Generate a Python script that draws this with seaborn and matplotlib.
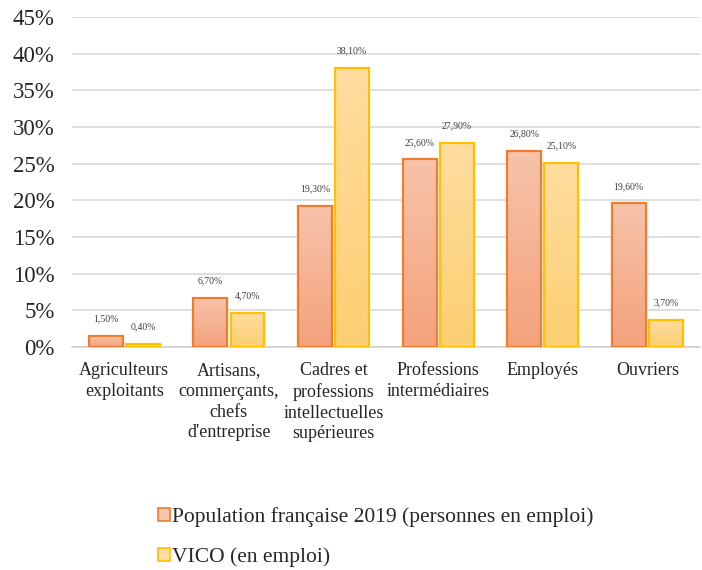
import numpy as np
import pandas as pd
import matplotlib
matplotlib.use("Agg")
import matplotlib.pyplot as plt
import seaborn as sns
from matplotlib.colors import LinearSegmentedColormap

# data
categories = ["Agriculteurs\nexploitants", "Artisans,\ncommerçants,\nchefs\nd'entreprise",
              "Cadres et\nprofessions\nintellectuelles\nsupérieures", "Professions\nintermédiaires",
              "Employés", "Ouvriers"]
series_names = ["Population française 2019 (personnes en emploi)", "VICO (en emploi)"]
pop_2019 = [1.5, 6.7, 19.3, 25.6, 26.8, 19.6]
vico = [0.4, 4.7, 38.1, 27.9, 25.1, 3.7]
y_ticks = [0, 5, 10, 15, 20, 25, 30, 35, 40, 45]

df = pd.DataFrame({
    "cat": categories * 2,
    "serie": [series_names[0]] * 6 + [series_names[1]] * 6,
    "val": pop_2019 + vico,
})

sns.set_theme(style="white")
plt.rcParams["font.family"] = ["Liberation Serif", "DejaVu Serif"]

edge_cols = ["#ED7D31", "#FFC000"]
grad_cols = [("#F4A27C", "#F7C3AA"), ("#FDCF72", "#FFDDA0")]  # (bottom, top)

fig = plt.figure(figsize=(7.02, 5.70), dpi=100)
ax = fig.add_axes([0.1026, 0.391, 0.894, 0.579])

sns.barplot(data=df, x="cat", y="val", hue="serie", palette=[c[0] for c in grad_cols],
            width=0.71, gap=0.085, edgecolor=None, linewidth=0, ax=ax, legend=True)

# gradient fill + outline on each bar
grad = np.linspace(0, 1, 256).reshape(-1, 1)
for cont, ec, gc in zip(ax.containers, edge_cols, grad_cols):
    cmap = LinearSegmentedColormap.from_list("g", [gc[0], gc[1]])
    for bar in cont:
        x0, y0 = bar.get_x(), bar.get_y()
        w, h = bar.get_width(), bar.get_height()
        im = ax.imshow(grad, cmap=cmap, origin="lower", aspect="auto",
                       extent=[x0, x0 + w, y0, y0 + h], zorder=2)
        im.set_clip_path(bar)
        bar.set_edgecolor(ec)
        bar.set_linewidth(1.6)
        bar.set_facecolor("none")
        bar.set_zorder(3)
    labels = [f"{v:.2f}".replace(".", ",") + "%" for v in cont.datavalues]
    ax.bar_label(cont, labels=labels, padding=9, fontsize=7, color="#404040")

ax.set_xlim(-0.5, 5.5)
ax.set_ylim(0, 45)
ax.set_yticks(y_ticks)
ax.set_yticklabels([f"{t}%" for t in y_ticks], fontsize=16.5, color="#262626")
ax.tick_params(axis="x", labelsize=13, colors="#262626", pad=11, length=0)
ax.tick_params(axis="y", pad=12.5, length=0)
for lab in ax.get_xticklabels():
    lab.set_linespacing(1.28)
    lab.set_verticalalignment("top")
ax.set_xlabel("")
ax.set_ylabel("")
ax.grid(axis="y", color="#D9D9D9", linewidth=1.2)
ax.set_axisbelow(True)
for s in ["top", "right", "left"]:
    ax.spines[s].set_visible(False)
ax.spines["bottom"].set_color("#D0D0D0")
ax.spines["bottom"].set_linewidth(1.2)

handles, lbls = ax.get_legend_handles_labels()
ax.get_legend().remove()
for hnd, ec, gc in zip(handles, edge_cols, grad_cols):
    hnd.set_edgecolor(ec)
    hnd.set_facecolor(gc[1])
    hnd.set_linewidth(1.2)
fig.legend(handles, lbls, loc="upper left", bbox_to_anchor=(0.225, 0.111),
           frameon=False, fontsize=15.5, handlelength=0.55, handleheight=0.55,
           handletextpad=0.12, labelspacing=0.95, borderaxespad=0, borderpad=0)

fig.savefig("out.png", dpi=100)
